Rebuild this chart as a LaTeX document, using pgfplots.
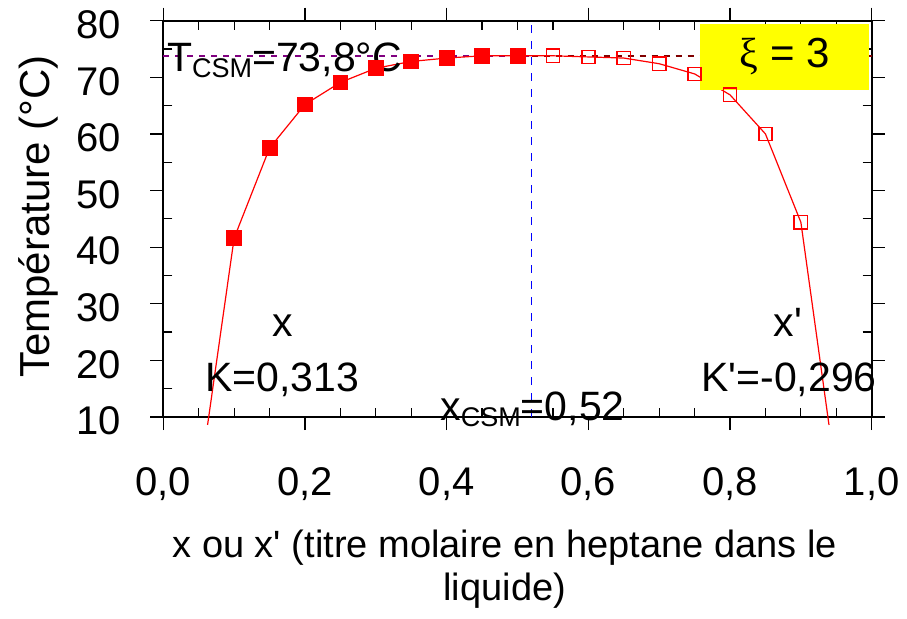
\documentclass[border=0pt]{standalone}
\usepackage{pgfplots}
\pgfplotsset{compat=1.18}
\usepackage{fontspec}
\setmainfont{Liberation Sans}
\newfontfamily\symbfont{Liberation Serif}
\definecolor{cpurple}{RGB}{128,0,128}
\definecolor{cdarkred}{RGB}{128,0,0}
\definecolor{cblue}{RGB}{0,0,255}
\definecolor{cyellow}{RGB}{255,255,0}
\newcommand{\sub}[1]{\raisebox{-3pt}{\fontsize{13.5}{13.5}\selectfont #1}}
\newcommand{\q}{\textquotesingle}
\begin{document}
\begin{tikzpicture}
\begin{axis}[
  scale only axis, width=354.2pt, height=198.15pt,
  xmin=0, xmax=1, ymin=10, ymax=80,
  clip=false,
  axis line style={line width=1pt},
  xtick={0,0.2,0.4,0.6,0.8,1.0},
  xticklabels={{0,0},{0,2},{0,4},{0,6},{0,8},{1,0}},
  ytick={10,20,30,40,50,60,70,80},
  yticklabels={10,20,30,40,50,60,70,80},
  minor x tick num=3, minor y tick num=1,
  tick align=outside,
  major tick length=6.5pt, minor tick length=-4.5pt,
  tick style={black, line width=0.6pt},
  tick label style={font=\fontsize{20}{22}\selectfont},
  xticklabel style={anchor=north, yshift=-15pt},
  yticklabel style={anchor=east, xshift=-11pt, yshift=-2pt},
  ylabel={Température (°C)},
  ylabel style={at={(axis description cs:-0.16,0.506)}, anchor=base, font=\fontsize{21}{22}\selectfont},
  xlabel={x ou x\q{} (titre molaire en heptane dans le\\liquide)},
  xlabel style={at={(axis description cs:0.482,-0.268)}, anchor=north, align=center, font=\fontsize{19}{21.5}\selectfont},
]
% reference dashed lines
\addplot[cpurple, line width=0.8pt, dash pattern=on 3pt off 3pt] coordinates {(0,73.8) (0.52,73.8)};
\addplot[cdarkred, line width=0.8pt, dash pattern=on 3pt off 3pt] coordinates {(0.52,73.8) (1,73.8)};
\addplot[cblue, line width=0.7pt, dash pattern=on 4pt off 4pt] coordinates {(0.52,10) (0.52,80)};
% curve
\addplot[red, line width=0.6pt, mark=none] coordinates {
(0.0625,8.6) (0.10,41.6) (0.15,57.5) (0.20,65.2) (0.25,69.1) (0.30,71.6) (0.35,72.8) (0.40,73.4) (0.45,73.8) (0.50,73.8)
(0.55,73.8) (0.60,73.6) (0.65,73.4) (0.70,72.4) (0.75,70.6) (0.80,66.9) (0.85,60.0) (0.90,44.4) (0.9397,8.6)};
\addplot[only marks, mark=square*, mark size=3.7pt, red] coordinates {
(0.10,41.6) (0.15,57.5) (0.20,65.2) (0.25,69.1) (0.30,71.6) (0.35,72.8) (0.40,73.4) (0.45,73.8) (0.50,73.8)};
\addplot[only marks, mark=square, mark size=3.3pt, red, mark options={line width=0.8pt}] coordinates {
(0.55,73.8) (0.60,73.6) (0.65,73.4) (0.70,72.4) (0.75,70.6) (0.80,66.9) (0.85,60.0) (0.90,44.4)};
% yellow box
\fill[cyellow] (axis cs:0.757,67.8) rectangle (axis cs:0.996,79.4);
\node[font=\fontsize{21}{22}\selectfont] at (axis cs:0.877,73.6) {{\symbfont ξ} = 3};
% annotations
\node[anchor=base west, inner sep=0, font=\fontsize{20.5}{22}\selectfont] at (axis cs:0.0047,71.0) {T\sub{CSM}=73,8°C};
\node[anchor=base, inner sep=0, font=\fontsize{20.5}{22}\selectfont] at (axis cs:0.169,24.2) {x};
\node[anchor=base west, inner sep=0, font=\fontsize{20.5}{22}\selectfont] at (axis cs:0.0589,14.5) {K=0,313};
\node[anchor=base, inner sep=0, font=\fontsize{20.5}{22}\selectfont] at (axis cs:0.882,24.2) {x\q};
\node[anchor=base east, inner sep=0, font=\fontsize{20.5}{22}\selectfont] at (axis cs:1.0075,14.5) {K\q=-0,296};
\node[anchor=base west, inner sep=0, font=\fontsize{20.5}{22}\selectfont] at (axis cs:0.3906,9.47) {x\sub{CSM}=0,52};
\coordinate (bbl) at (rel axis cs:-0.2305,-0.5072);
\coordinate (btr) at (rel axis cs:1.0498,1.0522);
\end{axis}
\pgfresetboundingbox
\path (bbl) rectangle (btr);
\end{tikzpicture}
\end{document}
